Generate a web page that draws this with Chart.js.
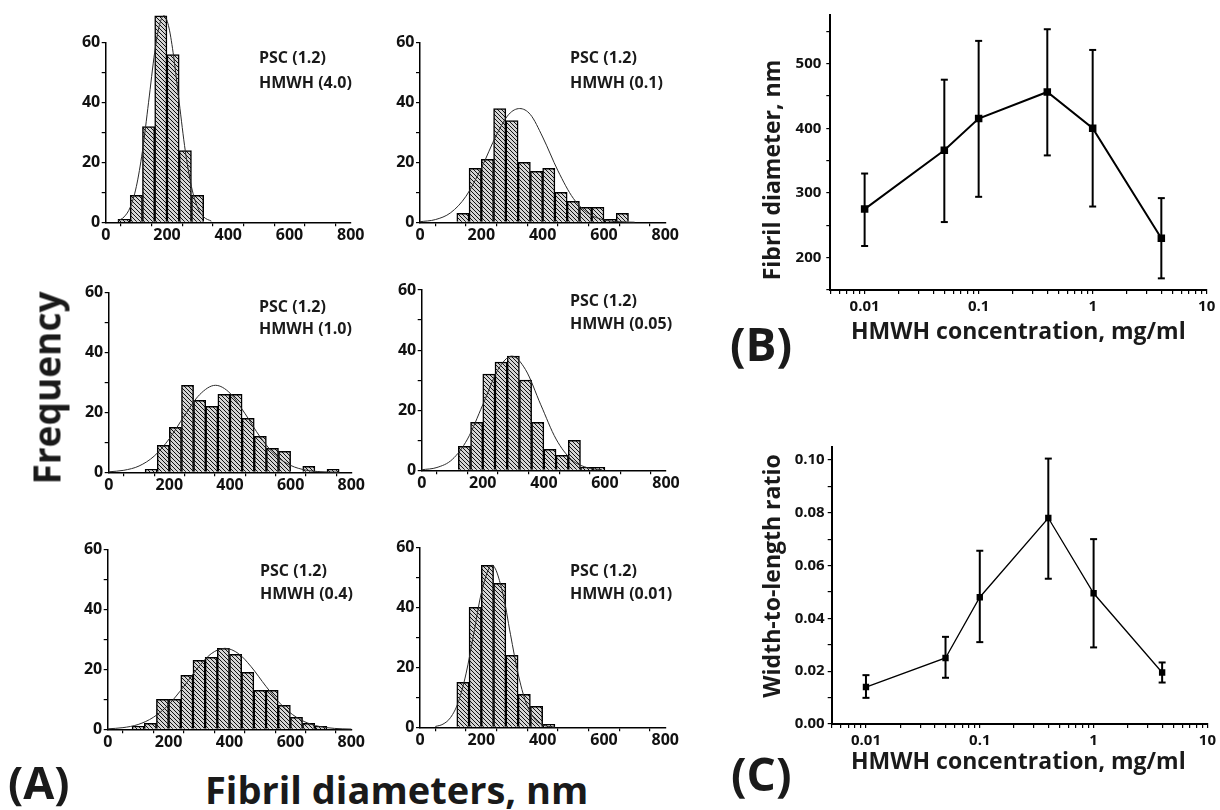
<!DOCTYPE html>
<html><head><meta charset="utf-8">
<script src="https://cdn.jsdelivr.net/npm/chart.js@4.4.1/dist/chart.umd.min.js"></script>
<style>
html,body{margin:0;padding:0;background:#fff;}
body{width:1220px;height:810px;position:relative;overflow:hidden;font-family:"Open Sans",Lato,sans-serif;color:#1a1a1a;}
canvas{position:absolute;}
.t{position:absolute;white-space:nowrap;line-height:1;font-weight:700;}
.rot{transform:translate(-50%,-50%) rotate(-90deg);}
.ann{font-size:16px;}
</style></head><body>
<canvas id="a1"></canvas><canvas id="a2"></canvas><canvas id="a3"></canvas>
<canvas id="a4"></canvas><canvas id="a5"></canvas><canvas id="a6"></canvas>
<canvas id="b"></canvas><canvas id="c"></canvas>

<div class="t ann" style="left:259px;top:49px">PSC (1.2)</div>
<div class="t ann" style="left:259px;top:73.5px">HMWH (4.0)</div>
<div class="t ann" style="left:570px;top:49px">PSC (1.2)</div>
<div class="t ann" style="left:570px;top:73.5px">HMWH (0.1)</div>
<div class="t ann" style="left:259px;top:297.5px">PSC (1.2)</div>
<div class="t ann" style="left:259px;top:320px">HMWH (1.0)</div>
<div class="t ann" style="left:570px;top:292px">PSC (1.2)</div>
<div class="t ann" style="left:570px;top:315px">HMWH (0.05)</div>
<div class="t ann" style="left:260px;top:562px">PSC (1.2)</div>
<div class="t ann" style="left:260px;top:585px">HMWH (0.4)</div>
<div class="t ann" style="left:570px;top:562px">PSC (1.2)</div>
<div class="t ann" style="left:570px;top:585px">HMWH (0.01)</div>

<div class="t rot" style="left:45.6px;top:388px;font-size:37px">Frequency</div>
<div class="t" style="left:8px;top:759px;font-size:45px">(A)</div>
<div class="t" style="left:205px;top:770.4px;font-size:38px">Fibril diameters, nm</div>
<div class="t" style="left:730px;top:319.7px;font-size:46px">(B)</div>
<div class="t" style="left:731px;top:750px;font-size:46px">(C)</div>
<div class="t" style="left:851px;top:319px;font-size:23px">HMWH concentration, mg/ml</div>
<div class="t" style="left:851px;top:749px;font-size:23px">HMWH concentration, mg/ml</div>
<div class="t rot" style="left:771px;top:170px;font-size:23px">Fibril diameter, nm</div>
<div class="t rot" style="left:771px;top:576px;font-size:23px">Width-to-length ratio</div>

<script>
// ---------- DATA ----------
// Histograms (bin centres in nm, bin width 40 nm) and Gaussian fit curves
const hmwh40_bins   = [60,100,140,180,220,260,300];
const hmwh40_counts = [1,9,32,69,56,24,9];
const hmwh40_fitX   = [40,60,80,100,120,140,160,175,190,205,220,240,260,280,300,320,345];
const hmwh40_fitY   = [0.5,1.8,5.0,11.9,23.8,40.1,56.8,65.7,69,65.7,56.8,40.1,23.8,11.9,5.0,1.8,0.4];

const hmwh01_bins   = [140,180,220,260,300,340,380,420,460,500,540,580,620,660];
const hmwh01_counts = [3,18,21,38,34,20,17,18,10,7,5,5,1,3];
const hmwh01_fitX   = [0,50,100,150,200,250,290,325,360,400,450,500,550,600,650,700];
const hmwh01_fitY   = [0.2,0.9,3.2,8.7,18.1,29.3,36.1,38,36.0,28.5,17.2,8.0,2.9,0.8,0.2,0.03];

const hmwh10_bins   = [140,180,220,260,300,340,380,420,460,500,540,580,620,660,700,740];
const hmwh10_counts = [1,9,15,29,24,22,26,26,18,12,8,7,0,2,0,1];
const hmwh10_fitX   = [0,50,100,150,200,250,300,352,400,450,500,550,600,650,700,760];
const hmwh10_fitY   = [0.17,0.67,2.1,5.4,11.2,18.9,25.9,29,26.4,19.5,11.7,5.7,2.3,0.74,0.19,0.03];

const hmwh005_bins   = [140,180,220,260,300,340,380,420,460,500,540,580];
const hmwh005_counts = [8,16,32,36,38,30,16,7,5,10,1,1];
const hmwh005_fitX   = [0,50,100,150,200,250,295,340,390,440,490,540,590];
const hmwh005_fitY   = [0.18,0.94,3.6,10.4,21.8,33.5,38,33.5,21.8,10.4,3.6,0.94,0.18];

const hmwh04_bins   = [100,140,180,220,260,300,340,380,420,460,500,540,580,620,660,700];
const hmwh04_counts = [1,2,10,10,18,23,24,27,25,19,13,13,8,4,2,1];
const hmwh04_fitX   = [0,50,100,150,200,250,300,340,385,430,470,520,570,620,670,720,770,800];
const hmwh04_fitY   = [0.16,0.55,1.6,4.0,8.2,14.3,21.0,25.2,27,25.2,21.0,14.3,8.2,4.0,1.6,0.55,0.16,0.07];

const hmwh001_bins   = [140,180,220,260,300,340,380,420];
const hmwh001_counts = [15,40,54,48,24,11,7,1];
const hmwh001_fitX   = [50,75,100,125,150,175,200,235,270,295,320,345,370,395,420,440];
const hmwh001_fitY   = [0.28,1.05,3.3,8.4,17.8,31.0,44.7,54,44.7,31.0,17.8,8.4,3.3,1.05,0.28,0.08];

// Panel B / C
const concentration = [0.01,0.05,0.1,0.4,1,4];
const diameter      = [275,366,415,456,400,230];
const diameterLow   = [218,255,294,358,279,168];
const diameterHigh  = [330,475,535,553,521,292];
const ratio         = [0.014,0.025,0.048,0.078,0.0495,0.0195];
const ratioLow      = [0.0099,0.0175,0.031,0.055,0.029,0.0157];
const ratioHigh     = [0.0185,0.033,0.0656,0.1005,0.070,0.0233];

// Tick values / labels
const histXTicks  = [0,100,200,300,400,500,600,700,800];
const histXLabels = [0,200,400,600,800];
const histYTicks  = [0,10,20,30,40,50,60];
const histYLabels = [0,20,40,60];
const logMajor    = [0.01,0.1,1,10];
const diamTicks   = [150,200,250,300,350,400,450,500,550];
const diamLabels  = [200,300,400,500];
const ratioTicksH = [0,1,2,3,4,5,6,7,8,9,10]; // hundredths

// ---------- RENDER ----------
const FONT = '"Open Sans", Lato, sans-serif';
Chart.defaults.font.family = FONT;
Chart.defaults.font.weight = 'bold';
Chart.defaults.color = '#111';

const hatch = (function(){
  const s = 4, c = document.createElement('canvas'); c.width = s; c.height = s;
  const g = c.getContext('2d');
  g.fillStyle = '#d4d4d4'; g.fillRect(0,0,s,s);
  g.strokeStyle = '#111'; g.lineWidth = 1;
  g.beginPath();
  g.moveTo(-1,-1); g.lineTo(s+1,s+1);
  g.moveTo(-1,s-1); g.lineTo(1,s+1);
  g.moveTo(s-1,-1); g.lineTo(s+1,1);
  g.stroke();
  return g.createPattern(c,'repeat');
})();

function setup(id, box, area, xs, ys){
  const c = document.getElementById(id);
  c.width = box.w; c.height = box.h;
  c.style.left = box.x+'px'; c.style.top = box.y+'px';
  c.style.width = box.w+'px'; c.style.height = box.h+'px';
  xs.afterFit = s => { s.height = box.y + box.h - area.b; };
  ys.afterFit = s => { s.width = area.l - box.x; };
  return {canvas:c, layout:{padding:{left:0, top: area.t - box.y, right: box.x + box.w - area.r, bottom:0}}};
}

function near(list, v){ return list.some(m => Math.abs(m - v) <= Math.abs(m)*1e-6 + 1e-12); }

function histogram(id, box, area, bins, counts, fx, fy){
  const xs = {type:'linear', min:0, max:800, offset:false,
    afterBuildTicks: s => { s.ticks = histXTicks.map(v => ({value:v})); },
    ticks:{autoSkip:false, maxRotation:0, minRotation:0, padding:0, color:'#111',
      font:{size:16, weight:'bold'}, callback: v => near(histXLabels, v) ? String(v) : ''},
    grid:{drawOnChartArea:false, tickLength:4, color:'#000', lineWidth:1.2},
    border:{color:'#000', width:1.5}};
  const ys = {type:'linear', min:0, max:60,
    afterBuildTicks: s => { s.ticks = histYTicks.map(v => ({value:v})); },
    ticks:{autoSkip:false, padding:1.5, color:'#111',
      font:{size:16, weight:'bold'}, callback: v => near(histYLabels, v) ? String(v) : ''},
    grid:{drawOnChartArea:false, tickLength:4, color:'#000', lineWidth:1.2},
    border:{color:'#000', width:1.5}};
  const s = setup(id, box, area, xs, ys);
  new Chart(s.canvas, {
    type:'bar',
    data:{datasets:[
      {type:'line', order:0, data: fx.map((x,i)=>({x, y:fy[i]})), borderColor:'#2a2a2a', borderWidth:1,
       pointRadius:0, cubicInterpolationMode:'monotone', clip:false, fill:false},
      {type:'bar', order:1, data: bins.map((x,i)=>({x, y:counts[i]})), backgroundColor:hatch,
       borderColor:'#000', borderWidth:1.5, barPercentage:1, categoryPercentage:1, clip:false}
    ]},
    options:{responsive:false, animation:false, devicePixelRatio:1, layout:s.layout,
      plugins:{legend:{display:false}, tooltip:{enabled:false}},
      scales:{x:xs, y:ys}}
  });
}

histogram('a1', {x:55,y:0,w:310,h:250},   {l:105.7,t:42.7,r:350.7,b:222.3}, hmwh40_bins, hmwh40_counts, hmwh40_fitX, hmwh40_fitY);
histogram('a2', {x:368,y:0,w:312,h:250},  {l:420,t:42.7,r:665.3,b:222.3},   hmwh01_bins, hmwh01_counts, hmwh01_fitX, hmwh01_fitY);
histogram('a3', {x:55,y:265,w:310,h:235}, {l:108.7,t:292.3,r:353.3,b:472.3}, hmwh10_bins, hmwh10_counts, hmwh10_fitX, hmwh10_fitY);
histogram('a4', {x:368,y:265,w:312,h:235},{l:421.7,t:290,r:666,b:470.3},    hmwh005_bins, hmwh005_counts, hmwh005_fitX, hmwh005_fitY);
histogram('a5', {x:55,y:515,w:310,h:245}, {l:107.7,t:549.3,r:352.7,b:729.3}, hmwh04_bins, hmwh04_counts, hmwh04_fitX, hmwh04_fitY);
histogram('a6', {x:368,y:515,w:312,h:245},{l:420,t:547.3,r:665.3,b:727.3},  hmwh001_bins, hmwh001_counts, hmwh001_fitX, hmwh001_fitY);

function logTicks(){
  const out = [];
  [0.001,0.01,0.1,1].forEach(d => { for (let k=1;k<=9;k++){ const v = +(k*d).toPrecision(6); if (v >= 0.005 && v <= 10) out.push(v); } });
  out.push(10);
  return out;
}

function errorChart(id, box, area, ys, vals, lo, hi, lineW, markR){
  const xs = {type:'logarithmic', min:0.005, max:10,
    afterBuildTicks: s => { s.ticks = logTicks().map(v => ({value:v})); },
    ticks:{autoSkip:false, maxRotation:0, minRotation:0, padding:4, color:'#111',
      font:{size:15, weight:'bold'}, callback: v => near(logMajor, v) ? String(v) : ''},
    grid:{drawOnChartArea:false, tickLength:4, color:'#000', lineWidth:1.2},
    border:{color:'#000', width:2}};
  const s = setup(id, box, area, xs, ys);
  const sets = [{order:0, data: concentration.map((x,i)=>({x, y:vals[i]})), borderColor:'#000', borderWidth:lineW,
    pointStyle:'rect', pointRadius:markR, pointBackgroundColor:'#000', pointBorderColor:'#000', pointBorderWidth:0, tension:0}];
  concentration.forEach((x,i) => {
    sets.push({order:1, data:[{x, y:lo[i]},{x, y:hi[i]}], borderColor:'#000', borderWidth:2,
      pointStyle:'line', pointRadius:3.5, pointBorderWidth:2, pointBorderColor:'#000', clip:false});
  });
  new Chart(s.canvas, {type:'line', data:{datasets:sets},
    options:{responsive:false, animation:false, devicePixelRatio:1, layout:s.layout,
      plugins:{legend:{display:false}, tooltip:{enabled:false}},
      scales:{x:xs, y:ys}}});
}

errorChart('b', {x:784,y:0,w:436,h:318}, {l:830.3,t:15,r:1206.7,b:290},
  {type:'linear', min:150, max:575,
   afterBuildTicks: s => { s.ticks = diamTicks.map(v => ({value:v})); },
   ticks:{autoSkip:false, padding:5, color:'#111', font:{size:15, weight:'bold'},
     callback: v => near(diamLabels, v) ? String(v) : ''},
   grid:{drawOnChartArea:false, tickLength:4, color:'#000', lineWidth:1.2},
   border:{color:'#000', width:2}},
  diameter, diameterLow, diameterHigh, 2, 5.3);

errorChart('c', {x:784,y:430,w:436,h:318}, {l:831.7,t:446.7,r:1209.3,b:724},
  {type:'linear', min:0, max:0.105,
   afterBuildTicks: s => { s.ticks = ratioTicksH.map(h => ({value:h/100})); },
   ticks:{autoSkip:false, padding:3, color:'#111', font:{size:15, weight:'bold'},
     callback: v => (Math.round(v*100) % 2 === 0) ? v.toFixed(2) : ''},
   grid:{drawOnChartArea:false, tickLength:4, color:'#000', lineWidth:1.2},
   border:{color:'#000', width:2}},
  ratio, ratioLow, ratioHigh, 1.3, 4.5);
</script>
</body></html>
